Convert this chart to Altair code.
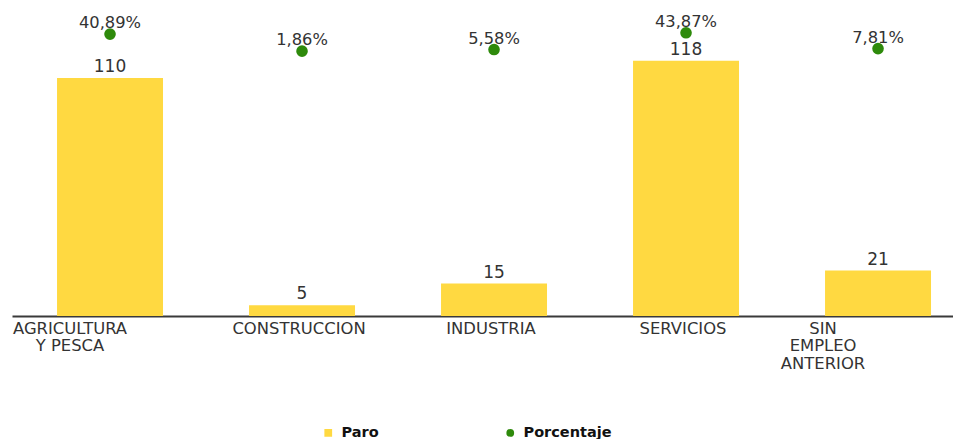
import altair as alt
import pandas as pd

categorias = ["AGRICULTURA|Y PESCA", "CONSTRUCCION", "INDUSTRIA", "SERVICIOS", "SIN|EMPLEO|ANTERIOR"]
paro = [110, 5, 15, 118, 21]
porcentaje = [40.89, 1.86, 5.58, 43.87, 7.81]
series = ["Paro", "Porcentaje"]

df = pd.DataFrame({"cat": categorias, "paro": paro, "pct": porcentaje})

YELLOW = "#FFD941"
GREEN = "#2E8A0B"
FONT = "DejaVu Sans"
TXT = "#333333"

xenc = alt.X(
    "cat:N",
    sort=categorias,
    scale=alt.Scale(paddingInner=0.448, paddingOuter=0.1745, align=0.672),
    axis=alt.Axis(
        title=None,
        labelAngle=0,
        ticks=False,
        domainColor="#3a3a3a",
        domainWidth=2,
        labelFont=FONT,
        labelFontSize=16.4,
        labelColor=TXT,
        labelPadding=4,
        labelLineHeight=17.5,
        labelExpr="split(datum.label, '|')",
        labelOffset={
            "condition": [
                {"test": "datum.value == 'AGRICULTURA|Y PESCA'", "value": -40},
                {"test": "datum.value == 'SIN|EMPLEO|ANTERIOR'", "value": -55},
            ],
            "value": -3,
        },
    ),
)

base = alt.Chart(df).transform_calculate(
    s_paro="'Paro'",
    s_pct="'Porcentaje'",
    pct_label="replace(format(datum.pct, '.2f'), '.', ',') + '%'",
)

color_scale = alt.Scale(domain=series, range=[YELLOW, GREEN])
shape_scale = alt.Scale(domain=series, range=["square", "circle"])
legend = alt.Legend(
    title=None,
    orient="none",
    direction="horizontal",
    legendX=309,
    legendY=415.5,
    columnPadding=124,
    labelFont=FONT,
    labelFontWeight="bold",
    labelFontSize=14.5,
    labelColor="#111111",
    symbolSize=60,
    symbolStrokeWidth=0,
    labelOffset=6,
)

ybar = alt.Y("paro:Q", scale=alt.Scale(domain=[0, 141.4], nice=False, zero=True), axis=None)

bars = base.mark_bar(color=YELLOW).encode(
    x=xenc,
    y=ybar,
    color=alt.Color("s_paro:N", scale=color_scale, legend=legend),
)
bar_text = base.mark_text(
    font=FONT, fontSize=17, color=TXT, baseline="bottom", dy=-2
).encode(x=xenc, y=ybar, text="paro:Q")

bar_layer = alt.layer(bars, bar_text)

ypt = alt.Y("pct:Q", scale=alt.Scale(domain=[0, 100], range=[42.0, -1.8], nice=False, zero=False), axis=None)

points = base.mark_point(filled=True, size=135, opacity=1).encode(
    x=xenc,
    y=ypt,
    color=alt.Color("s_pct:N", scale=color_scale, legend=legend),
    shape=alt.Shape("s_pct:N", scale=shape_scale, legend=legend),
)
pt_text = base.mark_text(
    font=FONT, fontSize=16.3, color=TXT, baseline="bottom", dy=-3
).encode(x=xenc, y=ypt, text="pct_label:N")

pt_layer = alt.layer(points, pt_text)

chart = (
    alt.layer(bar_layer, pt_layer)
    .resolve_scale(y="independent")
    .properties(width=941, height=306, padding={"left": 4, "top": 2, "right": 0, "bottom": 0})
    .configure_view(stroke=None)
)

chart.save("out.html", embed_options={"renderer": "svg", "actions": False})
